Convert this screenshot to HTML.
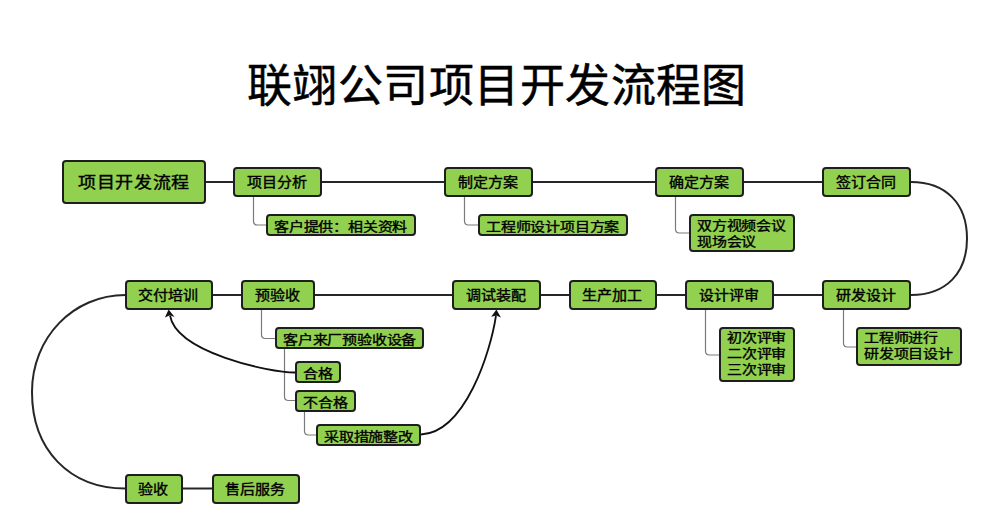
<!DOCTYPE html>
<html lang="zh-CN">
<head>
<meta charset="utf-8">
<style>
html,body{margin:0;padding:0;background:#fff;}
body{width:1000px;height:532px;position:relative;overflow:hidden;font-family:"Liberation Serif",serif;color:#000;}
.t{position:absolute;left:247px;top:59px;font-size:45px;-webkit-text-stroke:0.5px #000;letter-spacing:0.45px;line-height:56px;white-space:nowrap;}
.b{position:absolute;box-sizing:border-box;background:#92d050;border:2px solid #1e1e1e;border-radius:4px;font-weight:normal;-webkit-text-stroke:0.4px #000;font-size:15px;line-height:28px;text-align:center;white-space:nowrap;}
.b span{display:inline-block;transform:scaleY(0.9);}
.m{height:30px;padding-right:2px;}
.s{height:22px;line-height:22px;font-size:15px;letter-spacing:-0.2px;text-align:left;padding-left:6px;}
.s span{transform:scaleY(0.84);}
.s2{line-height:16px;padding-top:0;}
.s2 span{display:block;line-height:19.05px;transform-origin:0 0;margin-top:1.2px;}
svg{position:absolute;left:0;top:0;}
</style>
</head>
<body>
<div class="t">联翊公司项目开发流程图</div>
<svg width="1000" height="532" viewBox="0 0 1000 532">
  <g fill="none" stroke="#262626" stroke-width="2">
    <path d="M206,182 H823"/>
    <path d="M213,295 H823"/>
    <path d="M183,488.5 H213"/>
    <path d="M911,182 C945.7,182 967,203.5 967,238.5 C967,273.5 945.7,295 911,295"/>
    <path d="M125.5,295 C73.1,295 32,337.7 32,392 C32,449.6 69.4,488.5 125.5,488.5"/>
  </g>
  <g fill="none" stroke="#7a7a7a" stroke-width="1.2">
    <path d="M253.5,197 V221 Q253.5,225 257.5,225 H267"/>
    <path d="M464.5,197 V221 Q464.5,225 468.5,225 H479"/>
    <path d="M675.5,197 V229 Q675.5,233 679.5,233 H690"/>
    <path d="M261.5,310 V334.5 Q261.5,338.5 265.5,338.5 H276"/>
    <path d="M284.5,349 V396.5 Q284.5,400.5 288.5,400.5 H296"/>
    <path d="M284.5,372.5 H296"/>
    <path d="M304.5,411 V431 Q304.5,435 308.5,435 H317"/>
    <path d="M705.5,310 V351 Q705.5,355 709.5,355 H720"/>
    <path d="M843.5,310 V343 Q843.5,347 847.5,347 H857"/>
  </g>
  <g fill="none" stroke="#111" stroke-width="1.8">
    <path d="M295.5,372.5 C268.8,372.5 176.6,352.5 170,315.5"/>
    <path d="M421,434.5 C465.3,432.5 490.7,351.5 496,315.5"/>
  </g>
  <g fill="#111">
    <path d="M168.6,309.5 L174.6,317 L169.9,315.3 L164.9,317.6 Z"/>
    <path d="M496.4,309.6 L500.9,317.4 L496.3,315.6 L491.2,316.8 Z"/>
  </g>
</svg>
<div class="b" style="left:62px;top:160px;width:144px;height:44px;font-size:18px;letter-spacing:0.6px;line-height:43px;"><span>项目开发流程</span></div>
<div class="b m" style="left:233px;top:167px;width:89px;"><span>项目分析</span></div>
<div class="b m" style="left:444px;top:167px;width:89px;"><span>制定方案</span></div>
<div class="b m" style="left:655px;top:167px;width:89px;"><span>确定方案</span></div>
<div class="b m" style="left:822px;top:167px;width:89px;"><span>签订合同</span></div>

<div class="b s" style="left:266px;top:214px;width:150px;"><span>客户提供：相关资料</span></div>
<div class="b s" style="left:478px;top:214px;width:150px;"><span>工程师设计项目方案</span></div>
<div class="b s s2" style="left:689px;top:214px;width:106px;height:38px;padding-top:1px;"><span>双方视频会议<br>现场会议</span></div>

<div class="b m" style="left:125px;top:280px;width:88px;"><span>交付培训</span></div>
<div class="b m" style="left:241px;top:280px;width:74px;"><span>预验收</span></div>
<div class="b m" style="left:452px;top:280px;width:89px;"><span>调试装配</span></div>
<div class="b m" style="left:569px;top:280px;width:88px;"><span>生产加工</span></div>
<div class="b m" style="left:685px;top:280px;width:89px;"><span>设计评审</span></div>
<div class="b m" style="left:822px;top:280px;width:89px;"><span>研发设计</span></div>

<div class="b s" style="left:275px;top:327px;width:149px;"><span>客户来厂预验收设备</span></div>
<div class="b s" style="left:295px;top:361px;width:46px;height:22px;"><span>合格</span></div>
<div class="b s" style="left:295px;top:390px;width:61px;"><span>不合格</span></div>
<div class="b s" style="left:316px;top:424px;width:105px;"><span>采取措施整改</span></div>
<div class="b s s2" style="left:719px;top:327px;width:76px;height:55px;"><span>初次评审<br>二次评审<br>三次评审</span></div>
<div class="b s s2" style="left:856px;top:327px;width:106px;height:38.6px;"><span>工程师进行<br>研发项目设计</span></div>

<div class="b m" style="left:125px;top:474px;width:58px;"><span>验收</span></div>
<div class="b m" style="left:212px;top:474px;width:88px;"><span>售后服务</span></div>
</body>
</html>
